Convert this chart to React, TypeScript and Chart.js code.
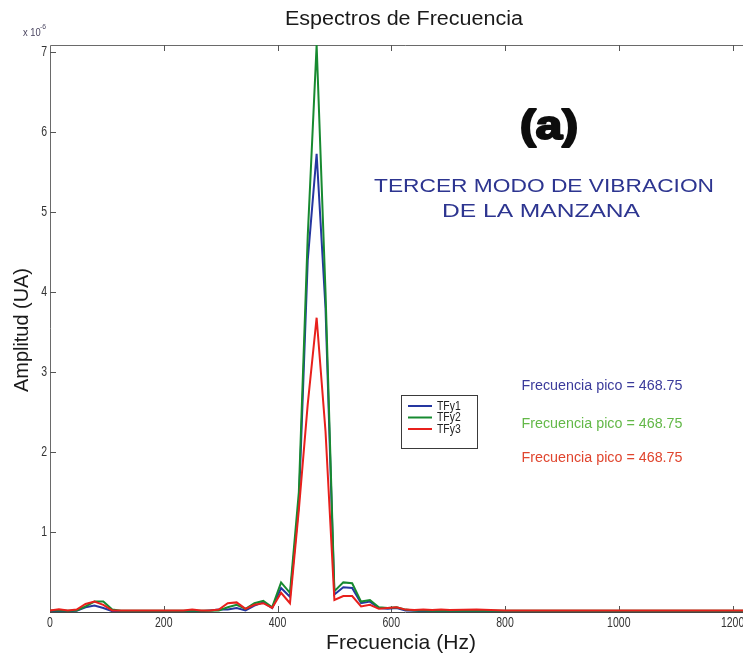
import React, { useEffect, useRef } from "react";
import { Chart, registerables } from "chart.js";

Chart.register(...registerables);

// Frequency bins (Hz) of the spectra
const FREQ_HZ = [
  0, 15.625, 31.25, 46.875, 62.5, 78.125, 93.75, 109.375, 125, 140.625,
  156.25, 171.875, 187.5, 203.125, 218.75, 234.375, 250, 265.625, 281.25, 296.875,
  312.5, 328.125, 343.75, 359.375, 375, 390.625, 406.25, 421.875, 437.5, 453.125,
  468.75, 484.375, 500, 515.625, 531.25, 546.875, 562.5, 578.125, 593.75, 609.375,
  625, 640.625, 656.25, 671.875, 687.5, 703.125, 750, 800, 900, 1000, 1100, 1200, 1250,
];

// Amplitudes in units of 1e-6 (UA)
const TFY1 = [
  0.01, 0.015, 0.01, 0.015, 0.06, 0.08, 0.05, 0.01, 0.01, 0.01,
  0.01, 0.01, 0.01, 0.01, 0.01, 0.01, 0.01, 0.01, 0.02, 0.03,
  0.03, 0.05, 0.02, 0.08, 0.12, 0.05, 0.30, 0.19, 1.35, 4.4,
  5.73, 3.8, 0.22, 0.31, 0.30, 0.11, 0.13, 0.05, 0.04, 0.05,
  0.02, 0.015, 0.01, 0.01, 0.01, 0.01, 0.01, 0.01, 0.01, 0.01, 0.01, 0.01, 0.01,
];
const TFY2 = [
  0.02, 0.02, 0.015, 0.02, 0.07, 0.13, 0.13, 0.03, 0.015, 0.015,
  0.015, 0.015, 0.015, 0.015, 0.015, 0.015, 0.015, 0.015, 0.015, 0.02,
  0.06, 0.09, 0.04, 0.11, 0.14, 0.06, 0.37, 0.24, 1.5, 4.7,
  7.09, 4.0, 0.26, 0.37, 0.36, 0.13, 0.15, 0.06, 0.05, 0.06,
  0.03, 0.02, 0.02, 0.015, 0.015, 0.015, 0.015, 0.015, 0.015, 0.015, 0.015, 0.015, 0.015,
];
const TFY3 = [
  0.02, 0.035, 0.02, 0.03, 0.10, 0.13, 0.09, 0.02, 0.02, 0.02,
  0.02, 0.02, 0.02, 0.02, 0.02, 0.02, 0.03, 0.02, 0.02, 0.03,
  0.11, 0.12, 0.04, 0.09, 0.11, 0.05, 0.24, 0.11, 1.28, 2.6,
  3.68, 2.26, 0.15, 0.20, 0.20, 0.07, 0.09, 0.04, 0.05, 0.06,
  0.03, 0.025, 0.03, 0.025, 0.03, 0.025, 0.03, 0.02, 0.02, 0.02, 0.02, 0.02, 0.02,
];

const SERIES_NAMES = ["TFy1", "TFy2", "TFy3"];
const SERIES_VALUES = [TFY1, TFY2, TFY3];
const SERIES_COLORS = ["#2536a0", "#178a30", "#e8201c"];
const PEAK_TEXT_COLORS = ["#3b3b9b", "#63b848", "#e0452e"];

const X_TICKS = [0, 200, 400, 600, 800, 1000, 1200];
const Y_TICKS = [1, 2, 3, 4, 5, 6, 7];
const X_MAX = 1250;
const Y_MAX = 7.09;

const TITLE = "Espectros de Frecuencia";
const X_TITLE = "Frecuencia (Hz)";
const Y_TITLE = "Amplitud (UA)";
const PANEL_TAG = "(a)";
const NOTE_LINES = ["TERCER MODO DE VIBRACION", "DE LA MANZANA"];

const FAMILY = "'Liberation Sans', Arial, sans-serif";

function peakFrequency(values: number[]): number {
  let best = 0;
  for (let i = 1; i < values.length; i++) if (values[i] > values[best]) best = i;
  return FREQ_HZ[best];
}

function fitText(
  ctx: CanvasRenderingContext2D,
  text: string,
  cx: number,
  cy: number,
  width: number,
  font: string,
  color: string,
  rotate = false,
  strokeWidth = 0
) {
  ctx.save();
  ctx.font = font;
  const w = ctx.measureText(text).width;
  ctx.translate(cx, cy);
  if (rotate) ctx.rotate(-Math.PI / 2);
  ctx.scale(width / w, 1);
  ctx.textAlign = "center";
  ctx.textBaseline = "middle";
  ctx.fillStyle = color;
  ctx.fillText(text, 0, 0);
  if (strokeWidth > 0) {
    ctx.strokeStyle = color;
    ctx.lineWidth = strokeWidth;
    ctx.lineJoin = "round";
    ctx.strokeText(text, 0, 0);
  }
  ctx.restore();
}

// narrow text drawn with a horizontal squeeze
function narrowText(
  ctx: CanvasRenderingContext2D,
  text: string,
  x: number,
  y: number,
  align: "left" | "center" | "right",
  font: string,
  color: string,
  squeeze = 0.8
) {
  ctx.save();
  ctx.font = font;
  ctx.translate(x, y);
  ctx.scale(squeeze, 1);
  ctx.textAlign = align;
  ctx.textBaseline = "middle";
  ctx.fillStyle = color;
  ctx.fillText(text, 0, 0);
  ctx.restore();
}

const frameAndAnnotations = {
  id: "frameAndAnnotations",
  beforeDatasetsDraw(chart: any) {
    const { ctx, chartArea: a, scales } = chart;
    const xs = scales.x;
    const ys = scales.y;
    ctx.save();
    ctx.strokeStyle = "#6a6a6a";
    ctx.lineWidth = 1;
    ctx.beginPath();
    ctx.moveTo(a.left + 0.5, a.bottom);
    ctx.lineTo(a.left + 0.5, a.top + 0.5);
    ctx.lineTo(a.right, a.top + 0.5);
    ctx.stroke();
    ctx.strokeStyle = "#444";
    ctx.beginPath();
    ctx.moveTo(a.left, a.bottom + 0.5);
    ctx.lineTo(a.right, a.bottom + 0.5);
    ctx.stroke();
    // inward tick marks
    ctx.strokeStyle = "#555";
    ctx.beginPath();
    for (const t of X_TICKS) {
      if (t === 0) continue;
      const px = Math.round(xs.getPixelForValue(t)) + 0.5;
      ctx.moveTo(px, a.bottom);
      ctx.lineTo(px, a.bottom - 6);
      ctx.moveTo(px, a.top);
      ctx.lineTo(px, a.top + 6);
    }
    for (const t of Y_TICKS) {
      const py = Math.round(ys.getPixelForValue(t)) + 0.5;
      ctx.moveTo(a.left, py);
      ctx.lineTo(a.left + 6, py);
    }
    ctx.stroke();

    // tick labels
    const tickFont = `15px ${FAMILY}`;
    for (const t of X_TICKS) {
      narrowText(ctx, String(t), xs.getPixelForValue(t), a.bottom + 11, "center", tickFont, "#333", 0.7);
    }
    for (const t of Y_TICKS) {
      narrowText(ctx, String(t), a.left - 3, ys.getPixelForValue(t), "right", tickFont, "#333", 0.7);
    }
    ctx.restore();
  },
  afterDraw(chart: any) {
    const { ctx } = chart;
    ctx.save();
    // titles
    fitText(ctx, TITLE, 404, 19, 238, `20px ${FAMILY}`, "#1a1a1a");
    fitText(ctx, X_TITLE, 401, 643, 150, `21px ${FAMILY}`, "#1a1a1a");
    fitText(ctx, Y_TITLE, 22, 330, 124, `20px ${FAMILY}`, "#1a1a1a", true);

    // axis multiplier
    narrowText(ctx, "x 10", 23, 33, "left", `11px ${FAMILY}`, "#4a4560", 0.85);
    narrowText(ctx, "-6", 40, 27, "left", `8px ${FAMILY}`, "#4a4560", 0.85);

    // panel tag and note
    fitText(ctx, PANEL_TAG, 549, 128, 58, `bold 40px ${FAMILY}`, "#0d0d0d", false, 2.2);
    fitText(ctx, NOTE_LINES[0], 544, 187, 340, `18px ${FAMILY}`, "#2d3590");
    fitText(ctx, NOTE_LINES[1], 541, 212, 198, `18px ${FAMILY}`, "#2d3590");

    // peak frequency labels
    const rows = [386, 424, 458];
    SERIES_VALUES.forEach((vals, i) => {
      const label = `Frecuencia pico = ${peakFrequency(vals)}`;
      fitText(ctx, label, 602, rows[i], 161, `14px ${FAMILY}`, PEAK_TEXT_COLORS[i]);
    });

    // legend box
    const bx = 401, by = 395, bw = 76, bh = 53;
    ctx.fillStyle = "#ffffff";
    ctx.fillRect(bx, by, bw, bh);
    ctx.strokeStyle = "#3a3a3a";
    ctx.lineWidth = 1;
    ctx.strokeRect(bx + 0.5, by + 0.5, bw, bh);
    const legRows = [406, 417.5, 429];
    SERIES_NAMES.forEach((name, i) => {
      ctx.strokeStyle = SERIES_COLORS[i];
      ctx.lineWidth = 2;
      ctx.beginPath();
      ctx.moveTo(bx + 7, legRows[i]);
      ctx.lineTo(bx + 31, legRows[i]);
      ctx.stroke();
      narrowText(ctx, name, bx + 36, legRows[i], "left", `13px ${FAMILY}`, "#222", 0.8);
    });
    ctx.restore();
  },
};

export default function App() {
  const canvasRef = useRef<HTMLCanvasElement | null>(null);

  useEffect(() => {
    if (!canvasRef.current) return;
    const chart = new Chart(canvasRef.current, {
      type: "line",
      data: {
        datasets: SERIES_VALUES.map((vals, i) => ({
          label: SERIES_NAMES[i],
          data: vals.map((v, k) => ({ x: FREQ_HZ[k], y: v })),
          borderColor: SERIES_COLORS[i],
          backgroundColor: SERIES_COLORS[i],
          borderWidth: 2,
          pointRadius: 0,
          tension: 0,
          fill: false,
          order: 3 - i,
        })),
      },
      options: {
        responsive: false,
        maintainAspectRatio: false,
        animation: false,
        layout: { padding: { top: 45, right: 0, left: 0, bottom: 0 } },
        plugins: {
          legend: { display: false },
          title: { display: false },
          tooltip: { enabled: false },
        },
        scales: {
          x: {
            type: "linear",
            min: 0,
            max: X_MAX,
            afterFit: (s: any) => {
              s.height = 50;
            },
            grid: { display: false, drawTicks: false },
            border: { display: false },
            ticks: { display: false },
          },
          y: {
            type: "linear",
            min: 0,
            max: Y_MAX,
            afterFit: (s: any) => {
              s.width = 50;
            },
            grid: { display: false, drawTicks: false },
            border: { display: false },
            ticks: { display: false },
          },
        },
      },
      plugins: [frameAndAnnotations],
    });
    return () => chart.destroy();
  }, []);

  return (
    <div
      style={{
        margin: "-8px",
        width: 751,
        height: 662,
        overflow: "hidden",
        position: "relative",
        background: "#fff",
      }}
    >
      <canvas ref={canvasRef} width={761} height={662} style={{ display: "block" }} />
    </div>
  );
}
